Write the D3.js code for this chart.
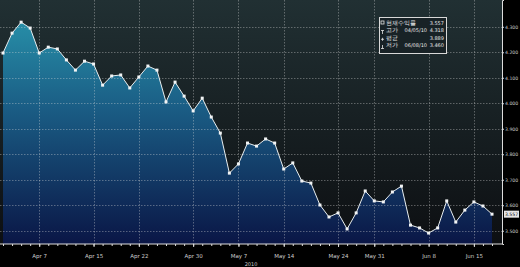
<!DOCTYPE html>
<html>
<head>
<meta charset="utf-8">
<script src="https://cdn.jsdelivr.net/npm/d3@7"></script>
<style>
  html, body { margin: 0; padding: 0; background: #000; }
  svg { display: block; }
  text { font-family: "DejaVu Sans", sans-serif; }
</style>
</head>
<body>
<svg id="chart"></svg>
<script>
// daily yields, Apr 1 - Jun 17 2010
const yields = [
  4.197, 4.275, 4.318, 4.295, 4.197, 4.220, 4.213, 4.170, 4.130, 4.165,
  4.154, 4.071, 4.107, 4.111, 4.060, 4.103, 4.146, 4.130, 4.005, 4.083,
  4.028, 3.970, 4.020, 3.946, 3.883, 3.726, 3.762, 3.844, 3.832, 3.860,
  3.844, 3.742, 3.766, 3.695, 3.687, 3.601, 3.554, 3.570, 3.507, 3.570,
  3.656, 3.617, 3.613, 3.652, 3.675, 3.522, 3.511, 3.491, 3.511, 3.617,
  3.534, 3.581, 3.613, 3.597, 3.565
];
const dateTicks = [4, 10, 15, 21, 26, 31, 37, 41, 47, 52];
const dateLabels = ['Apr 7', 'Apr 15', 'Apr 22', 'Apr 30', 'May 7', 'May 14', 'May 24', 'May 31', 'Jun 8', 'Jun 15'];
const yTicks = [3.5, 3.6, 3.7, 3.8, 3.9, 4.0, 4.1, 4.2, 4.3];
const legendNames = ['현재수익률', '고가', '평균', '저가'];
const legendDates = ['', '04/05/10', '', '06/08/10'];
const legendValues = ['3.557', '4.318', '3.889', '3.460'];
const lastValue = '3.557';

const width = 520, height = 267;
const plotRight = 502, plotBottom = 244;

const svg = d3.select('#chart').attr('width', width).attr('height', height);
svg.append('rect').attr('width', width).attr('height', height).attr('fill', '#000');

const x = d3.scaleLinear().domain([0, yields.length - 1]).range([3, 492]);
const y = d3.scaleLinear().domain([3.448, 4.405]).range([plotBottom, 0]);

const defs = svg.append('defs');
const bg = defs.append('linearGradient').attr('id', 'bg')
  .attr('x1', 0).attr('y1', 0).attr('x2', 0).attr('y2', 1);
bg.append('stop').attr('offset', '0%').attr('stop-color', '#213033');
bg.append('stop').attr('offset', '100%').attr('stop-color', '#0d0f12');

const fill = defs.append('linearGradient').attr('id', 'fill')
  .attr('gradientUnits', 'userSpaceOnUse')
  .attr('x1', 0).attr('y1', 0).attr('x2', 0).attr('y2', plotBottom);
fill.append('stop').attr('offset', '0%').attr('stop-color', '#2a9ab0');
fill.append('stop').attr('offset', '45%').attr('stop-color', '#1a5c84');
fill.append('stop').attr('offset', '100%').attr('stop-color', '#0a1646');

/** plot background */
svg.append('rect').attr('x', 0).attr('y', 0)
  .attr('width', plotRight).attr('height', plotBottom).attr('fill', 'url(#bg)');

/** area */
svg.append('path').datum(yields)
  .attr('fill', 'url(#fill)')
  .attr('d', d3.area().x((d, i) => x(i)).y0(plotBottom).y1(d => y(d)));

/** grid */
const grid = svg.append('g')
  .attr('stroke', 'rgba(220,220,220,0.45)')
  .attr('stroke-width', 0.8)
  .attr('stroke-dasharray', '1.5,1.5');
grid.selectAll('line.h').data(yTicks).join('line').attr('class', 'h')
  .attr('x1', 0).attr('x2', plotRight)
  .attr('y1', d => Math.round(y(d)) + 0.5).attr('y2', d => Math.round(y(d)) + 0.5);
grid.selectAll('line.v').data(dateTicks).join('line').attr('class', 'v')
  .attr('y1', 0).attr('y2', plotBottom)
  .attr('x1', d => Math.round(x(d)) + 0.5).attr('x2', d => Math.round(x(d)) + 0.5);

/** line + markers */
svg.append('path').datum(yields)
  .attr('fill', 'none').attr('stroke', '#e8eef0').attr('stroke-width', 1)
  .attr('d', d3.line().x((d, i) => x(i)).y(d => y(d)));
svg.append('g').selectAll('rect').data(yields).join('rect')
  .attr('x', (d, i) => x(i) - 1.5).attr('y', d => y(d) - 1.5)
  .attr('width', 3).attr('height', 3).attr('fill', '#f2f4f5');

/** right axis */
const yAxis = svg.append('g')
  .attr('transform', `translate(${plotRight},0)`)
  .call(d3.axisRight(y).tickValues(yTicks).tickSize(2).tickPadding(1).tickFormat(d3.format('.3f')));
yAxis.select('.domain').attr('stroke', '#ddd');
yAxis.selectAll('line').attr('stroke', '#ddd');
yAxis.selectAll('text').attr('fill', '#ccc').attr('font-size', 4.6);

/** bottom axis with a tick per day */
const xAxis = svg.append('g')
  .attr('transform', `translate(0,${plotBottom})`)
  .call(d3.axisBottom(x).tickValues(d3.range(yields.length)).tickSize(2).tickFormat(''));
xAxis.select('.domain').attr('stroke', '#ddd').attr('d', `M0,0H${plotRight}`);
xAxis.selectAll('line').attr('stroke', '#ddd');
const xLab = svg.append('g')
  .attr('transform', `translate(0,${plotBottom})`)
  .call(d3.axisBottom(x).tickValues(dateTicks).tickSize(3).tickPadding(7)
    .tickFormat((d, i) => dateLabels[i]));
xLab.select('.domain').remove();
xLab.selectAll('line').attr('stroke', '#ddd');
xLab.selectAll('text').attr('fill', '#ccc').attr('font-size', 5.5);
svg.append('text').attr('x', 251).attr('y', 266).attr('text-anchor', 'middle')
  .attr('fill', '#ccc').attr('font-size', 5).text('2010');

/** last value tag */
const lastY = y(yields[yields.length - 1]);
svg.append('rect').attr('x', 504).attr('y', lastY - 3.5).attr('width', 15).attr('height', 7)
  .attr('fill', '#e6e6e6');
svg.append('text').attr('x', 511.5).attr('y', lastY + 2).attr('text-anchor', 'middle')
  .attr('fill', '#111').attr('font-size', 4.6).text(lastValue);

/** legend */
const lg = svg.append('g').attr('transform', 'translate(379,17)');
lg.append('rect').attr('x', 0.5).attr('y', 0.5).attr('width', 67).attr('height', 36)
  .attr('fill', '#182226').attr('stroke', '#d8d8d8').attr('stroke-width', 1);
const rows = lg.selectAll('g.row').data(legendNames).join('g').attr('class', 'row')
  .attr('transform', (d, i) => `translate(0,${8 + i * 7.3})`);
rows.append('text').attr('x', 7).attr('y', 0)
  .attr('font-family', '"Noto Sans CJK KR", sans-serif')
  .attr('fill', '#e6e6e6').attr('font-size', 5.5).text(d => d);
rows.append('text').attr('x', 48).attr('y', 0).attr('text-anchor', 'end')
  .attr('fill', '#e6e6e6').attr('font-size', 5).text((d, i) => legendDates[i]);
rows.append('text').attr('x', 65).attr('y', 0).attr('text-anchor', 'end')
  .attr('fill', '#e6e6e6').attr('font-size', 5).text((d, i) => legendValues[i]);
// little symbols in front of each row
const sym = lg.append('g').attr('stroke', '#e6e6e6').attr('stroke-width', 0.8).attr('fill', 'none');
sym.append('rect').attr('x', 2).attr('y', 4).attr('width', 3).attr('height', 3);
sym.append('path').attr('d', 'M2,13.5H5M3.5,13.5V17');
sym.append('path').attr('d', 'M2,22.3H5M3.5,20.8V23.8');
sym.append('path').attr('d', 'M2,31.5H5M3.5,28V31.5');
</script>
</body>
</html>
